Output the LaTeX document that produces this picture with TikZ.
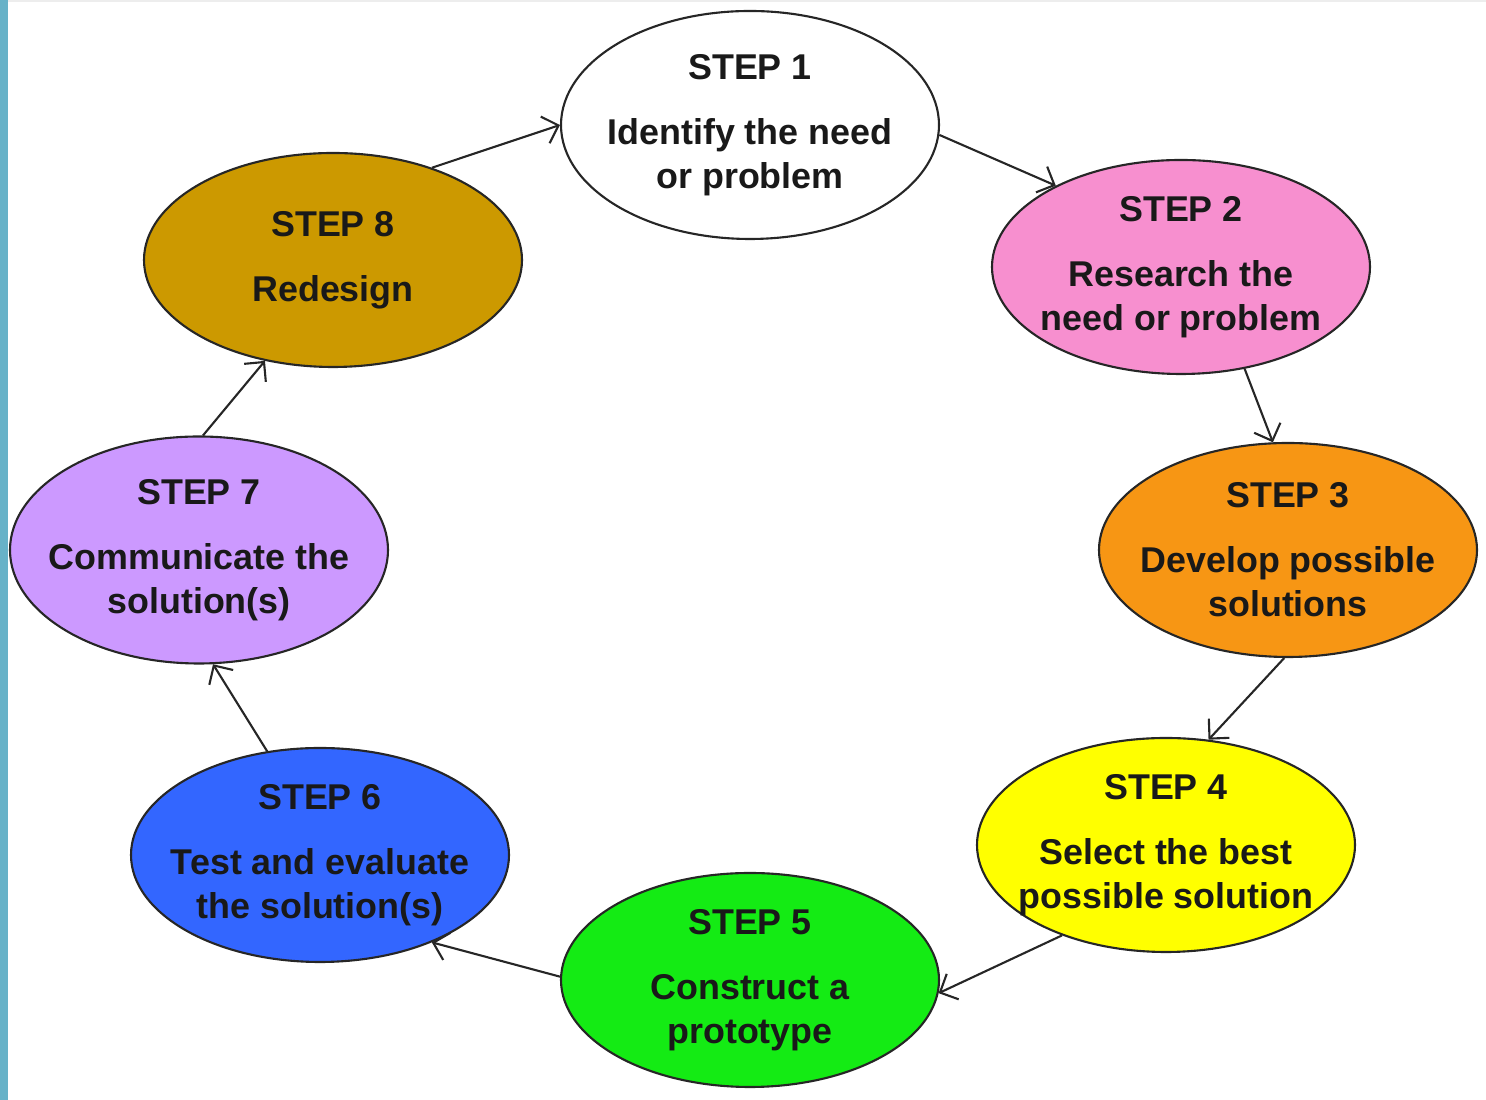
\documentclass[tikz,border=0pt]{standalone}
\usepackage{fontspec}
\setmainfont{Liberation Sans}
\usetikzlibrary{shapes.geometric,arrows.meta}

\definecolor{stripblue}{RGB}{103,178,200}
\definecolor{pinkstep}{RGB}{247,143,207}
\definecolor{orangestep}{RGB}{247,150,20}
\definecolor{yellowstep}{RGB}{255,255,0}
\definecolor{greenstep}{RGB}{20,235,20}
\definecolor{bluestep}{RGB}{51,102,255}
\definecolor{lilacstep}{RGB}{204,153,255}
\definecolor{goldstep}{RGB}{204,153,0}

\begin{document}
\begin{tikzpicture}[
    stepnode/.style={ellipse,draw=black!85,line width=0.6pt,minimum width=3.78cm,
        minimum height=2.14cm,inner sep=-1cm,align=center,text=black!90,
        font=\bfseries\fontsize{10.2}{12.5}\selectfont},
    >={Straight Barb[length=4pt,width=8pt]},
    flow/.style={->,line width=0.6pt,draw=black!85}]
    \useasboundingbox (0,0) rectangle (14.86,11);
    \fill[stripblue] (0,0) rectangle (0.08,11);
    \fill[black!7] (0.08,10.975) rectangle (14.86,11);

    \node[stepnode,fill=white,minimum height=2.28cm] (one) at (7.50,9.75) {STEP 1\\[6pt]Identify the need\\or problem};
    \node[stepnode,fill=pinkstep] (two) at (11.81,8.33) {STEP 2\\[6pt]Research the\\need or problem};
    \node[stepnode,fill=orangestep] (three) at (12.88,5.50) {STEP 3\\[6pt]Develop possible\\solutions};
    \node[stepnode,fill=yellowstep] (four) at (11.66,2.55) {STEP 4\\[6pt]Select the best\\possible solution};
    \node[stepnode,fill=greenstep] (five) at (7.50,1.20) {STEP 5\\[6pt]Construct a\\prototype};
    \node[stepnode,fill=bluestep] (six) at (3.20,2.45) {STEP 6\\[6pt]Test and evaluate\\the solution(s)};
    \node[stepnode,fill=lilacstep,minimum height=2.27cm] (seven) at (1.99,5.50) {STEP 7\\[6pt]Communicate the\\solution(s)};
    \node[stepnode,fill=goldstep] (eight) at (3.33,8.40) {STEP 8\\[6pt]Redesign};

    \path (eight.43) edge[flow] (one.180);
    \path (one.-3) edge[flow] (two.147);
    \path (two.-58) edge[flow] (three.98);
    \path (three.-92) edge[flow] (four.68);
    \path (four.-139) edge[flow] (five.-4);
    \path (five.179) edge[flow] (six.-38);
    \path (six.117) edge[flow] (seven.-83);
    \path (seven.88) edge[flow] (eight.-124);

\end{tikzpicture}
\end{document}
